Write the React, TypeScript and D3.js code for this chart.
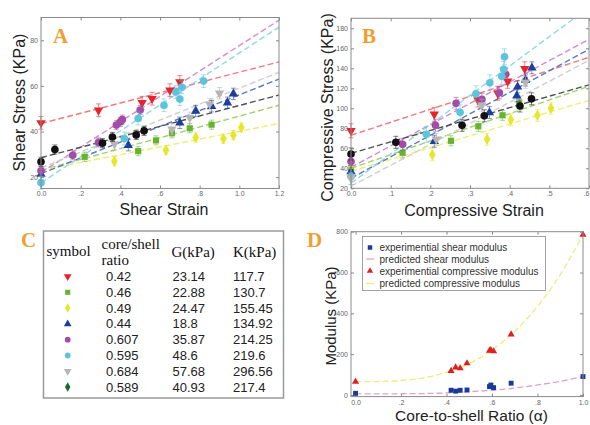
import React, { useRef, useEffect } from 'react';
import * as d3 from 'd3';

// ---- panel A: shear stress (KPa) vs shear strain, [strain, stress] ----
const shearRed = [[0, 43.8], [0.29, 49.3], [0.51, 52.6], [0.56, 54.4], [0.65, 58.1], [0.7, 61.7]];
const shearGreen = [[0.22, 28.9], [0.49, 31.4], [0.58, 36.1], [0.66, 39.2], [0.75, 41.4], [0.86, 43.0]];
const shearYellow = [[0.37, 27.0], [0.63, 31.8], [0.78, 37.4], [0.92, 36.8], [0.97, 38.4], [1.01, 41.8]];
const shearBlue = [[0, 21.3], [0.44, 34.0], [0.7, 43.8], [0.78, 49.0], [0.86, 51.1], [0.94, 52.6], [0.97, 56.5]];
const shearPurple = [[0, 22.8], [0.16, 29.6], [0.29, 35.2], [0.38, 42.8], [0.4, 44.2], [0.41, 45.2], [0.5, 49.4]];
const shearCyan = [[0, 17.5], [0.42, 36.9], [0.49, 45.7], [0.62, 51.5], [0.68, 57.3], [0.7, 54.2], [0.71, 59.4], [0.82, 62.1]];
const shearGray = [[0.37, 34.5], [0.66, 41.0], [0.75, 46.0], [0.85, 52.0], [0.9, 56.8]];
const shearBlack = [[0, 26.7], [0.07, 32.1], [0.31, 34.9], [0.36, 37.6], [0.48, 38.5], [0.52, 40.3]];
// dashed fits: stress at strain 0 and strain 1.2
const shearFits = [[43.5, 70.5], [23, 51.5], [23, 43.5], [21.5, 63], [22, 88.8], [17.5, 85.8], [24, 66], [28.5, 56]];
const shearErr = [2.8, 2, 2, 2.5, 2, 2.8, 2.5, 2];

// ---- panel B: compressive stress (KPa) vs compressive strain ----
const compRed = [[0, 77.5], [0.21, 94], [0.32, 108.3], [0.37, 115], [0.395, 127], [0.438, 139.5]];
const compGreen = [[0, 40], [0.13, 55.5], [0.252, 67.5], [0.321, 82], [0.382, 93], [0.424, 104.5]];
const compYellow = [[0, 41.5], [0.205, 53.5], [0.343, 69], [0.403, 88.5], [0.47, 93], [0.504, 100]];
const compBlue = [[0, 36.7], [0.21, 67], [0.349, 95.7], [0.418, 112.5], [0.42, 121.5], [0.44, 128.3], [0.456, 140.5]];
const compPurple = [[0, 46.7], [0.13, 64], [0.213, 83], [0.265, 105], [0.33, 109], [0.374, 115.5], [0.39, 134]];
const compCyan = [[0, 31.7], [0.19, 74], [0.275, 96], [0.315, 114.5], [0.35, 125.5], [0.38, 132], [0.385, 139], [0.387, 151.5]];
const compGray = [[0, 30], [0.215, 69], [0.33, 103], [0.44, 126]];
const compBlack = [[0, 54.3], [0.113, 66], [0.28, 83], [0.336, 92.5], [0.426, 102.3], [0.455, 109.5]];
// dashed fits: stress at strain 0 and strain 0.6
const compFits = [[73, 151], [40, 122], [37, 108], [30, 159], [41, 169], [25, 201], [22, 148], [55, 123.5]];
const compErr = [7, 5, 6, 6, 6, 8, 6, 6];

// ---- series styling, in table order ----
const seriesColor = ['#e4252b', '#66b32e', '#e6e62a', '#1d3f9a', '#a44ba8', '#5ec3dc', '#b5b5b5', '#111111'];
const fitColor = ['#f47a7a', '#9fd46a', '#eeee70', '#5a78c8', '#d58ad0', '#8fd8ea', '#cfcfcf', '#505050'];
const seriesSymbol = ['down', 'square', 'diamond', 'up', 'circle', 'circle', 'down', 'circle'];

// ---- panel C: table ----
const tableRatio = ['0.42', '0.46', '0.49', '0.44', '0.607', '0.595', '0.684', '0.589'];
const tableG = ['23.14', '22.88', '24.47', '18.8', '35.87', '48.6', '57.68', '40.93'];
const tableK = ['117.7', '130.7', '155.45', '134.92', '214.25', '219.6', '296.56', '217.4'];
const tableSymbol = ['down', 'square', 'diamond', 'up', 'circle', 'circle', 'down', 'diamond'];
const tableColor = ['#e4252b', '#66b32e', '#e6e62a', '#1d3f9a', '#a44ba8', '#5ec3dc', '#b5b5b5', '#1d6b2c'];

// ---- panel D: modulus vs core-to-shell ratio ----
const ratioX = [0, 0.42, 0.46, 0.49, 0.44, 0.607, 0.595, 0.684, 0.589, 1.0];
const shearModulus = [8, 23.14, 22.88, 24.47, 18.8, 35.87, 48.6, 57.68, 40.93, 90];
const compModulus = [65, 117.7, 130.7, 155.45, 134.92, 214.25, 219.6, 296.56, 217.4, 785];
const alphaGrid = [0, 0.1, 0.2, 0.3, 0.4, 0.5, 0.6, 0.7, 0.8, 0.9, 1.0];
const predShear = [5, 5, 6, 7, 10, 16, 23, 34, 49, 67, 90];
const predComp = [65, 66, 71, 84, 111, 155, 220, 312, 434, 590, 785];
const legendD = ['experimential shear modulus', 'predicted shear modulus', 'experimential compressive modulus', 'predicted compressive  modulus'];

// tick labels
const xTicksA = [0, 0.2, 0.4, 0.6, 0.8, 1.0, 1.2];
const xLabelsA = ['0.0', '.2', '.4', '.6', '.8', '1.0', '1.2'];
const yTicksA = [20, 40, 60, 80];
const xTicksB = [0, 0.1, 0.2, 0.3, 0.4, 0.5, 0.6];
const xLabelsB = ['0.0', '.1', '.2', '.3', '.4', '.5', '.6'];
const yTicksB = [20, 40, 60, 80, 100, 120, 140, 160, 180];
const xTicksD = [0, 0.2, 0.4, 0.6, 0.8, 1.0];
const xLabelsD = ['0.0', '.2', '.4', '.6', '.8', '1.0'];
const yTicksD = [0, 200, 400, 600, 800];

const SANS = 'Liberation Sans, Arial, sans-serif';
const SERIF = 'Liberation Serif, Times New Roman, serif';
const LETTER = '#f0a030';

const symPath = (kind, size) => {
    const type = kind === 'down' || kind === 'up' ? d3.symbolTriangle
        : kind === 'square' ? d3.symbolSquare
            : kind === 'diamond' ? d3.symbolDiamond : d3.symbolCircle;
    return d3.symbol(type, size)();
};
const symRot = (kind) => (kind === 'down' ? ' rotate(180)' : '');

function drawFrame(svg, id, frame, xDom, yDom, xTicks, xLabels, yTicks) {
    const x = d3.scaleLinear().domain(xDom).range([frame.x0, frame.x1]);
    const y = d3.scaleLinear().domain(yDom).range([frame.y1, frame.y0]);

    svg.append('rect')
        .attr('x', frame.x0).attr('y', frame.y0)
        .attr('width', frame.x1 - frame.x0).attr('height', frame.y1 - frame.y0)
        .attr('fill', '#fff');

    svg.append('defs').append('clipPath').attr('id', id)
        .append('rect')
        .attr('x', frame.x0).attr('y', frame.y0)
        .attr('width', frame.x1 - frame.x0).attr('height', frame.y1 - frame.y0);

    const styleAxis = (g) => {
        g.select('.domain').remove();
        g.selectAll('line').attr('stroke', '#888');
        g.selectAll('text').attr('font-size', 7).attr('fill', '#666').attr('font-family', SANS);
    };

    const bottom = svg.append('g').attr('transform', `translate(0,${frame.y1})`)
        .call(d3.axisBottom(x).tickValues(xTicks).tickFormat((d, i) => xLabels[i]).tickSizeInner(-3).tickSizeOuter(0).tickPadding(3))
        .call(styleAxis);
    // keep a label that sits on the window edge inside it
    bottom.selectAll('text').filter((d) => x(d) > 584).attr('text-anchor', 'end');

    svg.append('g').attr('transform', `translate(0,${frame.y0})`)
        .call(d3.axisTop(x).tickValues(xTicks).tickFormat(() => '').tickSizeInner(-3).tickSizeOuter(0))
        .call(styleAxis);
    svg.append('g').attr('transform', `translate(${frame.x0},0)`)
        .call(d3.axisLeft(y).tickValues(yTicks).tickSizeInner(-3).tickSizeOuter(0).tickPadding(3))
        .call(styleAxis);
    svg.append('g').attr('transform', `translate(${frame.x1},0)`)
        .call(d3.axisRight(y).tickValues(yTicks).tickFormat(() => '').tickSizeInner(-3).tickSizeOuter(0))
        .call(styleAxis);

    return { x, y };
}

function drawBorder(svg, frame) {
    svg.append('rect')
        .attr('x', frame.x0).attr('y', frame.y0)
        .attr('width', frame.x1 - frame.x0).attr('height', frame.y1 - frame.y0)
        .attr('fill', 'none').attr('stroke', '#8a8a8a').attr('stroke-width', 1);
}

function drawScatter(svg, id, frame, xDom, yDom, xTicks, xLabels, yTicks, sets, fits, err) {
    const { x, y } = drawFrame(svg, id, frame, xDom, yDom, xTicks, xLabels, yTicks);
    const plot = svg.append('g').attr('clip-path', `url(#${id})`);

    // dashed fit lines
    fits.forEach((f, i) => {
        plot.append('line')
            .attr('x1', x(xDom[0])).attr('y1', y(f[0]))
            .attr('x2', x(xDom[1])).attr('y2', y(f[1]))
            .attr('stroke', fitColor[i]).attr('stroke-width', 1.4)
            .attr('stroke-dasharray', '6,3');
    });

    // error bars + markers
    sets.forEach((pts, i) => {
        const g = svg.append('g');
        const c = seriesColor[i];
        pts.forEach(([px, py]) => {
            const cx = x(px);
            const e = err[i];
            g.append('line').attr('x1', cx).attr('x2', cx).attr('y1', y(py - e)).attr('y2', y(py + e))
                .attr('stroke', c).attr('stroke-opacity', 0.55).attr('stroke-width', 1);
            [py - e, py + e].forEach((v) => {
                g.append('line').attr('x1', cx - 2.5).attr('x2', cx + 2.5).attr('y1', y(v)).attr('y2', y(v))
                    .attr('stroke', c).attr('stroke-opacity', 0.55).attr('stroke-width', 1);
            });
        });
        g.selectAll('path').data(pts).enter().append('path')
            .attr('d', symPath(seriesSymbol[i], seriesSymbol[i] === 'circle' ? 46 : 38))
            .attr('transform', (d) => `translate(${x(d[0])},${y(d[1])})${symRot(seriesSymbol[i])}`)
            .attr('fill', c);
    });

    drawBorder(svg, frame);
}

const App = () => {
    const chartRef = useRef();

    useEffect(() => {
        const svg = d3.select(chartRef.current);
        svg.selectAll('*').remove();

        // ---------- A ----------
        const frameA = { x0: 41, x1: 279, y0: 17.5, y1: 188.5 };
        drawScatter(svg, 'clipA', frameA, [0, 1.2], [15, 90], xTicksA, xLabelsA, yTicksA,
            [shearRed, shearGreen, shearYellow, shearBlue, shearPurple, shearCyan, shearGray, shearBlack],
            shearFits, shearErr);

        // ---------- B ----------
        const frameB = { x0: 351, x1: 589, y0: 18.3, y1: 188.3 };
        drawScatter(svg, 'clipB', frameB, [0, 0.6], [20, 190], xTicksB, xLabelsB, yTicksB,
            [compRed, compGreen, compYellow, compBlue, compPurple, compCyan, compGray, compBlack],
            compFits, compErr);

        // ---------- D ----------
        const frameD = { x0: 351, x1: 583, y0: 231.7, y1: 396.6 };
        const { x: xD, y: yD } = drawFrame(svg, 'clipD', frameD, [-0.02, 1.0], [-8, 800], xTicksD, xLabelsD, yTicksD);
        const plotD = svg.append('g').attr('clip-path', 'url(#clipD)');
        const curve = d3.line()
            .x((d, i) => xD(alphaGrid[i]))
            .y((d) => yD(d))
            .curve(d3.curveCatmullRom);
        plotD.append('path').datum(predShear).attr('d', curve)
            .attr('fill', 'none').attr('stroke', '#e2a2c6').attr('stroke-width', 1.3).attr('stroke-dasharray', '6,3');
        plotD.append('path').datum(predComp).attr('d', curve)
            .attr('fill', 'none').attr('stroke', '#ecec80').attr('stroke-width', 1.3).attr('stroke-dasharray', '6,3');
        svg.append('g').selectAll('path').data(ratioX).enter().append('path')
            .attr('d', symPath('square', 24))
            .attr('transform', (d, i) => `translate(${xD(d)},${yD(shearModulus[i])})`)
            .attr('fill', '#1a3a9a');
        svg.append('g').selectAll('path').data(ratioX).enter().append('path')
            .attr('d', symPath('up', 22))
            .attr('transform', (d, i) => `translate(${xD(d)},${yD(compModulus[i])})`)
            .attr('fill', '#e02020');
        drawBorder(svg, frameD);

        // legend D
        const lg = svg.append('g');
        lg.append('rect').attr('x', 362.5).attr('y', 236.5).attr('width', 183).attr('height', 54)
            .attr('fill', '#fff').attr('stroke', '#8a8a8a').attr('stroke-width', 0.8);
        const rowsY = [247.5, 259, 271, 283.5];
        legendD.forEach((t, i) => {
            const cy = rowsY[i];
            if (i === 0) lg.append('path').attr('d', symPath('square', 20)).attr('transform', `translate(370,${cy})`).attr('fill', '#1a3a9a');
            if (i === 2) lg.append('path').attr('d', symPath('up', 18)).attr('transform', `translate(370,${cy})`).attr('fill', '#e02020');
            if (i === 1 || i === 3) {
                lg.append('line').attr('x1', 366).attr('x2', 374).attr('y1', cy).attr('y2', cy)
                    .attr('stroke', i === 1 ? '#e2a2c6' : '#ecec80').attr('stroke-width', 1.3);
            }
            lg.append('text').attr('x', 379.5).attr('y', cy + 3.5).text(t)
                .attr('font-family', SANS).attr('font-size', 10).attr('fill', '#333');
        });

        // ---------- axis titles ----------
        const title = (txt, x, y, rot, size) => {
            svg.append('text')
                .attr('transform', `translate(${x},${y})${rot ? ' rotate(-90)' : ''}`)
                .attr('text-anchor', 'middle')
                .attr('font-family', SANS).attr('font-size', size).attr('fill', '#222')
                .text(txt);
        };
        title('Shear Strain', 164, 215, false, 16);
        title('Shear Stress (KPa)', 25, 102.5, true, 16);
        title('Compressive Strain', 474, 216, false, 16);
        title('Compressive Stress (KPa)', 333, 107.5, true, 16);
        title('Modulus (KPa)', 336, 316, true, 15);
        title('Core-to-shell Ratio (α)', 471.5, 420.5, false, 15.5);

        // ---------- panel letters ----------
        [['A', 53, 43], ['B', 362, 43], ['C', 21, 247], ['D', 307, 247]].forEach(([l, x, y]) => {
            svg.append('text').attr('x', x).attr('y', y).text(l)
                .attr('font-family', SERIF).attr('font-weight', 'bold').attr('font-size', 21).attr('fill', LETTER);
        });

        // ---------- C table ----------
        const tb = svg.append('g');
        tb.append('rect').attr('x', 43.5).attr('y', 231).attr('width', 240).attr('height', 167)
            .attr('fill', '#fff').attr('stroke', '#999').attr('stroke-width', 1.5);
        const head = [['symbol', 46.5, 255.5], ['core/shell', 101.5, 248.5], ['ratio', 101.5, 265], ['G(kPa)', 171.5, 257], ['K(kPa)', 233, 257]];
        head.forEach(([t, x, y]) => {
            tb.append('text').attr('x', x).attr('y', y).text(t)
                .attr('font-family', SERIF).attr('font-size', 15).attr('fill', '#111');
        });
        tableRatio.forEach((r, i) => {
            const base = 281 + i * 15.8;
            tb.append('path').attr('d', symPath(tableSymbol[i], 26))
                .attr('transform', `translate(67.7,${base - 4.5})${symRot(tableSymbol[i])}`)
                .attr('fill', tableColor[i]);
            [[r, 106], [tableG[i], 172.5], [tableK[i], 233]].forEach(([t, x]) => {
                tb.append('text').attr('x', x).attr('y', base).text(t)
                    .attr('font-family', SANS).attr('font-size', 13).attr('fill', '#222');
            });
        });
    }, []);

    return (
        <svg ref={chartRef} width={590} height={425}
            style={{ position: 'absolute', left: 0, top: 0, background: '#fff' }}></svg>
    );
};

export default App;
